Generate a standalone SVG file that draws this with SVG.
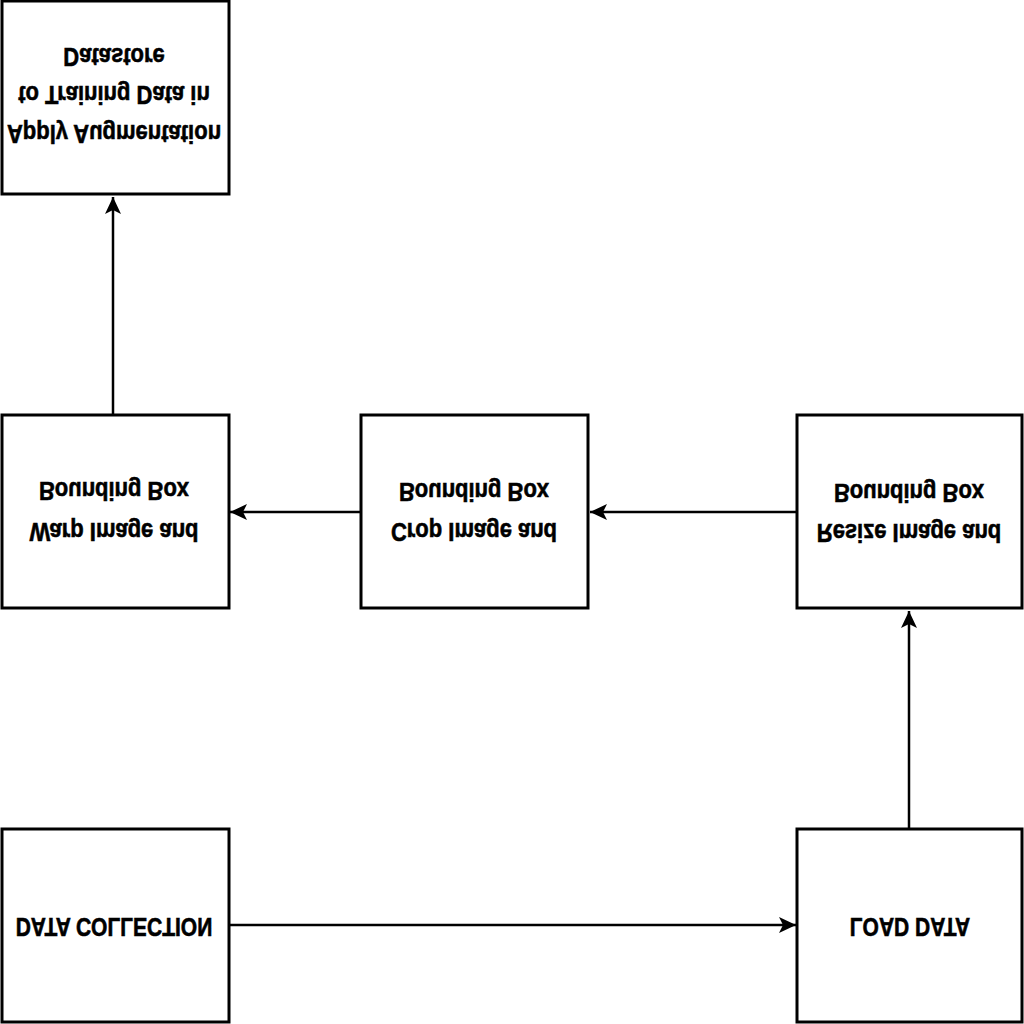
<svg xmlns="http://www.w3.org/2000/svg" width="1024" height="1024" viewBox="0 0 1024 1024">
<style>
.box{fill:#fff;stroke:#000;stroke-width:3}
.edge{fill:none;stroke:#000;stroke-width:2.5}
.t{font-family:"Liberation Sans",Arial,sans-serif;font-weight:bold;font-size:22px;fill:#000;stroke:#000;stroke-width:0.5;text-anchor:middle;dominant-baseline:central}
.c{font-size:21px}
</style>
<defs>
<marker id="arr" markerUnits="userSpaceOnUse" markerWidth="20" markerHeight="16" refX="17" refY="8" orient="auto">
<path d="M0,0 L17,8 L0,16 L4,8 Z" fill="#000"/>
</marker>
</defs>
<rect width="1024" height="1024" fill="#fff"/>
<g id="connectors">
<line class="edge" x1="113" y1="415" x2="113" y2="197" marker-end="url(#arr)"/>
<line class="edge" x1="361" y1="512" x2="230" y2="512" marker-end="url(#arr)"/>
<line class="edge" x1="797" y1="512" x2="590" y2="512" marker-end="url(#arr)"/>
<line class="edge" x1="909" y1="829" x2="909" y2="611" marker-end="url(#arr)"/>
<line class="edge" x1="229" y1="925" x2="796" y2="925" marker-end="url(#arr)"/>
</g>
<g id="node-augment">
<rect class="box" x="2" y="1" width="227" height="193"/>
<text class="t" transform="translate(114,57) scale(1,-1.15)">Datastore</text>
<text class="t" transform="translate(114,95) scale(1,-1.15)">to Training Data in</text>
<text class="t" transform="translate(114,134) scale(1,-1.15)">Apply Augmentation</text>
</g>
<g id="node-warp">
<rect class="box" x="2" y="415" width="227" height="193"/>
<text class="t" transform="translate(114,491) scale(1,-1.15)">Bounding Box</text>
<text class="t" transform="translate(114,532) scale(1,-1.15)">Warp Image and</text>
</g>
<g id="node-crop">
<rect class="box" x="361" y="415" width="227" height="193"/>
<text class="t" transform="translate(474,492) scale(1,-1.15)">Bounding Box</text>
<text class="t" transform="translate(474,532) scale(1,-1.15)">Crop Image and</text>
</g>
<g id="node-resize">
<rect class="box" x="797" y="415" width="225" height="193"/>
<text class="t" transform="translate(909,493) scale(1,-1.15)">Bounding Box</text>
<text class="t" transform="translate(909,533) scale(1,-1.15)">Resize Image and</text>
</g>
<g id="node-collection">
<rect class="box" x="2" y="829" width="227" height="193"/>
<text class="t c" transform="translate(114,927) scale(1,-1.2)">DATA COLLECTION</text>
</g>
<g id="node-load">
<rect class="box" x="797" y="829" width="225" height="193"/>
<text class="t c" transform="translate(910,927) scale(1,-1.2)">LOAD DATA</text>
</g>
</svg>
